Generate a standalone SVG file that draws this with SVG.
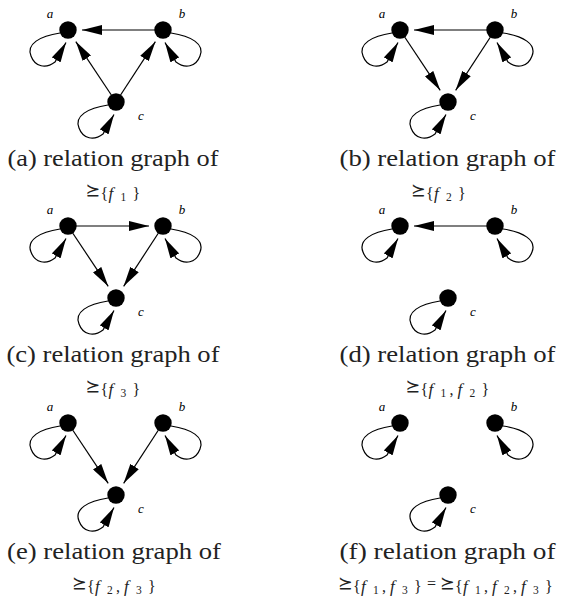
<svg xmlns="http://www.w3.org/2000/svg" width="561" height="599" viewBox="0 0 561 599">
<style>
.e{fill:none;stroke:#000;stroke-width:1.2;marker-end:url(#ah)}
.n{fill:#000}
.lb{font-family:"Liberation Serif",serif;font-style:italic;font-size:13px;text-anchor:middle;fill:#000}
.cap{font-family:"Liberation Serif",serif;font-size:23px;fill:#222;text-anchor:middle}
.rel{font-family:"DejaVu Sans",sans-serif;font-size:17.5px;fill:#222}
.s{font-family:"Liberation Serif",serif;font-size:16px;fill:#222}
.si{font-family:"Liberation Serif",serif;font-size:17px;font-style:italic;fill:#222}
.d{font-family:"Liberation Serif",serif;font-size:11.5px;fill:#222}
</style>
<defs>
<marker id="ah" viewBox="0 0 20 10" refX="20" refY="5" markerWidth="20" markerHeight="10" markerUnits="userSpaceOnUse" orient="auto"><path d="M0,0 L20,5 L0,10 z" fill="#000"/></marker>
</defs>
<g id="connectors">
<!-- (a) -->
<path class="e" d="M163,30 L82,30"/>
<path class="e" d="M116,102 L75.8,41.6"/>
<path class="e" d="M116,102 L155.4,41.7"/>
<path class="e" transform="translate(68,30)" d="M-8,3 C-28,6 -42,14 -37,26 C-33,37 -22,39 -13,32 L-2,12.5"/>
<path class="e" transform="translate(163,30) scale(-1,1)" d="M-8,3 C-28,6 -42,14 -37,26 C-33,37 -22,39 -13,32 L-2,12.5"/>
<path class="e" transform="translate(116,102)" d="M-8,3 C-28,6 -42,14 -37,26 C-33,37 -22,39 -13,32 L-2,12.5"/>
<!-- (b) -->
<path class="e" d="M495,30 L414,30"/>
<path class="e" d="M400,30 L440.2,90.35"/>
<path class="e" d="M495,30 L455.65,90.3"/>
<path class="e" transform="translate(400,30)" d="M-8,3 C-28,6 -42,14 -37,26 C-33,37 -22,39 -13,32 L-2,12.5"/>
<path class="e" transform="translate(495,30) scale(-1,1)" d="M-8,3 C-28,6 -42,14 -37,26 C-33,37 -22,39 -13,32 L-2,12.5"/>
<path class="e" transform="translate(448,102)" d="M-8,3 C-28,6 -42,14 -37,26 C-33,37 -22,39 -13,32 L-2,12.5"/>
<!-- (c) -->
<path class="e" d="M68,226 L149,226"/>
<path class="e" d="M68,226 L108.2,286.35"/>
<path class="e" d="M163,226 L123.65,286.3"/>
<path class="e" transform="translate(68,226)" d="M-8,3 C-28,6 -42,14 -37,26 C-33,37 -22,39 -13,32 L-2,12.5"/>
<path class="e" transform="translate(163,226) scale(-1,1)" d="M-8,3 C-28,6 -42,14 -37,26 C-33,37 -22,39 -13,32 L-2,12.5"/>
<path class="e" transform="translate(116,298)" d="M-8,3 C-28,6 -42,14 -37,26 C-33,37 -22,39 -13,32 L-2,12.5"/>
<!-- (d) -->
<path class="e" d="M495,226 L414,226"/>
<path class="e" transform="translate(400,226)" d="M-8,3 C-28,6 -42,14 -37,26 C-33,37 -22,39 -13,32 L-2,12.5"/>
<path class="e" transform="translate(495,226) scale(-1,1)" d="M-8,3 C-28,6 -42,14 -37,26 C-33,37 -22,39 -13,32 L-2,12.5"/>
<path class="e" transform="translate(448,298)" d="M-8,3 C-28,6 -42,14 -37,26 C-33,37 -22,39 -13,32 L-2,12.5"/>
<!-- (e) -->
<path class="e" d="M68,423 L108.2,483.35"/>
<path class="e" d="M163,423 L123.65,483.3"/>
<path class="e" transform="translate(68,423)" d="M-8,3 C-28,6 -42,14 -37,26 C-33,37 -22,39 -13,32 L-2,12.5"/>
<path class="e" transform="translate(163,423) scale(-1,1)" d="M-8,3 C-28,6 -42,14 -37,26 C-33,37 -22,39 -13,32 L-2,12.5"/>
<path class="e" transform="translate(116,495)" d="M-8,3 C-28,6 -42,14 -37,26 C-33,37 -22,39 -13,32 L-2,12.5"/>
<!-- (f) -->
<path class="e" transform="translate(400,423)" d="M-8,3 C-28,6 -42,14 -37,26 C-33,37 -22,39 -13,32 L-2,12.5"/>
<path class="e" transform="translate(495,423) scale(-1,1)" d="M-8,3 C-28,6 -42,14 -37,26 C-33,37 -22,39 -13,32 L-2,12.5"/>
<path class="e" transform="translate(448,495)" d="M-8,3 C-28,6 -42,14 -37,26 C-33,37 -22,39 -13,32 L-2,12.5"/>
</g>
<g id="a-panel-a"><circle class="n" cx="68" cy="30" r="8.7"/><text class="lb" x="50" y="18">a</text></g>
<g id="b-panel-a"><circle class="n" cx="163" cy="30" r="8.7"/><text class="lb" x="182" y="18">b</text></g>
<g id="c-panel-a"><circle class="n" cx="116" cy="102" r="8.7"/><text class="lb" x="141" y="120">c</text></g>
<g id="a-panel-b"><circle class="n" cx="400" cy="30" r="8.7"/><text class="lb" x="382" y="18">a</text></g>
<g id="b-panel-b"><circle class="n" cx="495" cy="30" r="8.7"/><text class="lb" x="514" y="18">b</text></g>
<g id="c-panel-b"><circle class="n" cx="448" cy="102" r="8.7"/><text class="lb" x="473" y="120">c</text></g>
<g id="a-panel-c"><circle class="n" cx="68" cy="226" r="8.7"/><text class="lb" x="50" y="214">a</text></g>
<g id="b-panel-c"><circle class="n" cx="163" cy="226" r="8.7"/><text class="lb" x="182" y="214">b</text></g>
<g id="c-panel-c"><circle class="n" cx="116" cy="298" r="8.7"/><text class="lb" x="141" y="316">c</text></g>
<g id="a-panel-d"><circle class="n" cx="400" cy="226" r="8.7"/><text class="lb" x="382" y="214">a</text></g>
<g id="b-panel-d"><circle class="n" cx="495" cy="226" r="8.7"/><text class="lb" x="514" y="214">b</text></g>
<g id="c-panel-d"><circle class="n" cx="448" cy="298" r="8.7"/><text class="lb" x="473" y="316">c</text></g>
<g id="a-panel-e"><circle class="n" cx="68" cy="423" r="8.7"/><text class="lb" x="50" y="411">a</text></g>
<g id="b-panel-e"><circle class="n" cx="163" cy="423" r="8.7"/><text class="lb" x="182" y="411">b</text></g>
<g id="c-panel-e"><circle class="n" cx="116" cy="495" r="8.7"/><text class="lb" x="141" y="513">c</text></g>
<g id="a-panel-f"><circle class="n" cx="400" cy="423" r="8.7"/><text class="lb" x="382" y="411">a</text></g>
<g id="b-panel-f"><circle class="n" cx="495" cy="423" r="8.7"/><text class="lb" x="514" y="411">b</text></g>
<g id="c-panel-f"><circle class="n" cx="448" cy="495" r="8.7"/><text class="lb" x="473" y="513">c</text></g>
<g id="captions">
<text class="cap" x="113" y="166" textLength="211" lengthAdjust="spacingAndGlyphs">(a) relation graph of</text>
<text><tspan class="rel" x="85.5" y="196">⪰</tspan><tspan class="s" x="100.5" y="199">{</tspan><tspan class="si" x="108.5" y="199">f</tspan><tspan class="d" x="120.5" y="201">1</tspan><tspan class="s" x="132.5" y="199">}</tspan></text>
<text class="cap" x="447.5" y="166" textLength="216" lengthAdjust="spacingAndGlyphs">(b) relation graph of</text>
<text><tspan class="rel" x="411" y="196">⪰</tspan><tspan class="s" x="426" y="199">{</tspan><tspan class="si" x="434" y="199">f</tspan><tspan class="d" x="446" y="201">2</tspan><tspan class="s" x="458" y="199">}</tspan></text>
<text class="cap" x="113" y="362" textLength="213" lengthAdjust="spacingAndGlyphs">(c) relation graph of</text>
<text><tspan class="rel" x="85.5" y="392">⪰</tspan><tspan class="s" x="100.5" y="395">{</tspan><tspan class="si" x="108.5" y="395">f</tspan><tspan class="d" x="120.5" y="397">3</tspan><tspan class="s" x="132.5" y="395">}</tspan></text>
<text class="cap" x="447.5" y="362" textLength="216" lengthAdjust="spacingAndGlyphs">(d) relation graph of</text>
<text><tspan class="rel" x="405.5" y="392">⪰</tspan><tspan class="s" x="420.5" y="395">{</tspan><tspan class="si" x="428.5" y="395">f</tspan><tspan class="d" x="440.5" y="397">1</tspan><tspan class="s" x="449.5" y="395">,</tspan><tspan class="si" x="457.5" y="395">f</tspan><tspan class="d" x="469.5" y="397">2</tspan><tspan class="s" x="481.5" y="395">}</tspan></text>
<text class="cap" x="114" y="559" textLength="214" lengthAdjust="spacingAndGlyphs">(e) relation graph of</text>
<text><tspan class="rel" x="72" y="589">⪰</tspan><tspan class="s" x="87" y="592">{</tspan><tspan class="si" x="95" y="592">f</tspan><tspan class="d" x="107" y="594">2</tspan><tspan class="s" x="116" y="592">,</tspan><tspan class="si" x="124" y="592">f</tspan><tspan class="d" x="136" y="594">3</tspan><tspan class="s" x="148" y="592">}</tspan></text>
<text class="cap" x="447.5" y="559" textLength="216" lengthAdjust="spacingAndGlyphs">(f) relation graph of</text>
<text><tspan class="rel" x="338" y="589">⪰</tspan><tspan class="s" x="353" y="592">{</tspan><tspan class="si" x="361" y="592">f</tspan><tspan class="d" x="373" y="594">1</tspan><tspan class="s" x="382" y="592">,</tspan><tspan class="si" x="390" y="592">f</tspan><tspan class="d" x="402" y="594">3</tspan><tspan class="s" x="414" y="592">}</tspan><tspan class="s" font-size="20" x="427" y="589">=</tspan><tspan class="rel" x="440" y="589">⪰</tspan><tspan class="s" x="455" y="592">{</tspan><tspan class="si" x="463" y="592">f</tspan><tspan class="d" x="475" y="594">1</tspan><tspan class="s" x="484" y="592">,</tspan><tspan class="si" x="492" y="592">f</tspan><tspan class="d" x="504" y="594">2</tspan><tspan class="s" x="513" y="592">,</tspan><tspan class="si" x="521" y="592">f</tspan><tspan class="d" x="533" y="594">3</tspan><tspan class="s" x="545" y="592">}</tspan></text>
</g>
</svg>
